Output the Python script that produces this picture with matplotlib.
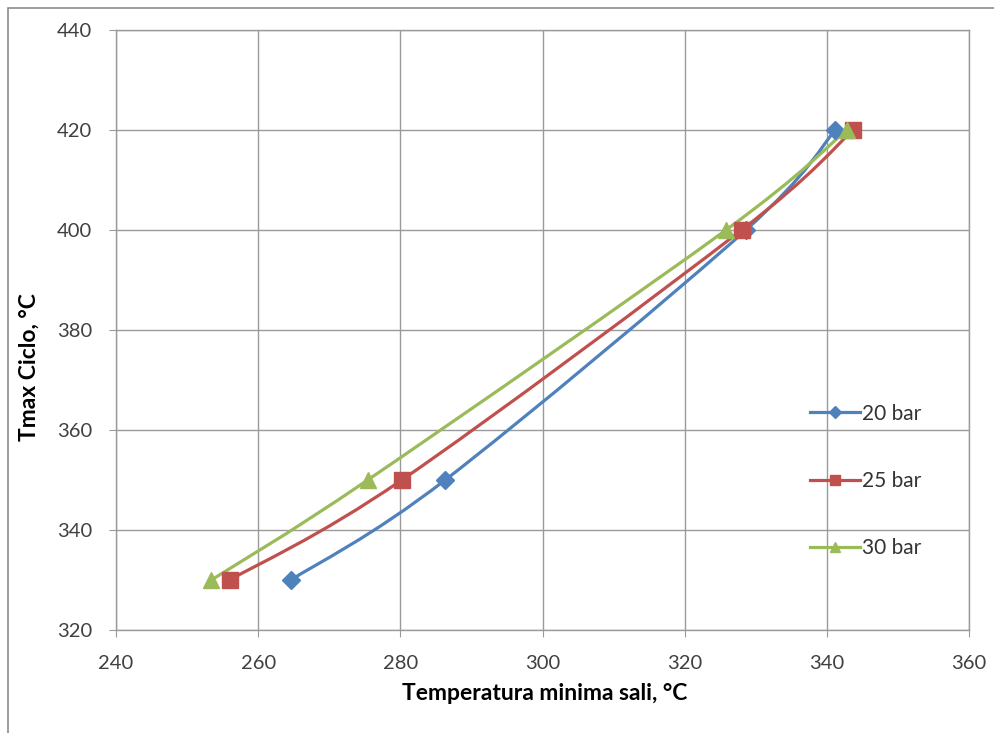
import matplotlib
matplotlib.use('Agg')
import matplotlib.pyplot as plt
from matplotlib.path import Path
from matplotlib.patches import PathPatch, Rectangle
from matplotlib.lines import Line2D
import numpy as np

plt.rcParams['font.family'] = ['Lato', 'DejaVu Sans']

# Tmax ciclo (y) against minimum salt temperature (x) for each pressure
tmax = [330, 350, 400, 420]
t_sali_20 = [264.6, 286.3, 328.6, 341.2]
t_sali_25 = [256.0, 280.2, 328.0, 343.7]
t_sali_30 = [253.4, 275.4, 325.8, 342.8]

labels = ['20 bar', '25 bar', '30 bar']
colors = ['#4F81BD', '#C0504D', '#9BBB59']
markers = ['D', 's', '^']
msizes = [9, 11, 11]

x_ticks = [240, 260, 280, 300, 320, 340, 360]
y_ticks = [320, 340, 360, 380, 400, 420, 440]


def smooth_path(xs, ys):
    # cubic bezier through every point, control points from the neighbours
    p = np.column_stack([xs, ys]).astype(float)
    n = len(p)
    verts = [p[0]]
    codes = [Path.MOVETO]
    for i in range(n - 1):
        p0 = p[i - 1] if i > 0 else p[i]
        p3 = p[i + 2] if i + 2 < n else p[i + 1]
        c1 = p[i] + (p[i + 1] - p0) / 6.0
        c2 = p[i + 1] - (p3 - p[i]) / 6.0
        verts += [c1, c2, p[i + 1]]
        codes += [Path.CURVE4] * 3
    return Path(verts, codes)


fig = plt.figure(figsize=(9.95, 7.33), dpi=100)
ax = fig.add_axes([0.1166, 0.1405, 0.8573, 0.8185])

series = [t_sali_20, t_sali_25, t_sali_30]
handles = []
for xs, lab, c, m, ms in zip(series, labels, colors, markers, msizes):
    ax.add_patch(PathPatch(smooth_path(xs, tmax), facecolor='none',
                           edgecolor=c, lw=2.3, zorder=3))
    ax.plot(xs, tmax, ls='none', marker=m, ms=ms, color=c, zorder=4)
    handles.append(Line2D([], [], color=c, lw=2.3, marker=m, ms=ms * 0.7))

ax.set_xlim(240, 360)
ax.set_ylim(320, 440)
ax.set_xticks(x_ticks)
ax.set_yticks(y_ticks)
ax.grid(True, color='#9a9a9a', lw=1.0)
ax.set_axisbelow(True)
for s in ax.spines.values():
    s.set_color('#9a9a9a')
    s.set_linewidth(1.0)
ax.tick_params(direction='out', length=5, color='#9a9a9a', labelsize=14.5,
               labelcolor='#404040')
ax.tick_params(axis='x', pad=13)
ax.tick_params(axis='y', pad=12)

ax.set_xlabel('Temperatura minima sali, °C', fontsize=16.5, fontweight='bold')
ax.set_ylabel('Tmax Ciclo, °C', fontsize=16.5, fontweight='bold')
ax.xaxis.set_label_coords(0.502, -0.088)
ax.yaxis.set_label_coords(-0.089, 0.438)

fig.legend(handles, labels, loc='center left', bbox_to_anchor=(0.814, 0.344),
           frameon=False, fontsize=15, handlelength=2.4, handletextpad=0.1,
           labelspacing=2.27, borderpad=0, borderaxespad=0,
           labelcolor='#333333')

# outer chart border
fig.patches.append(Rectangle((8 / 995, -0.02), 1.05, 1 - 8 / 733 + 0.02,
                             transform=fig.transFigure, fill=False,
                             edgecolor='#8c8c8c', lw=1.2))

plt.savefig('out.png', dpi=100)
